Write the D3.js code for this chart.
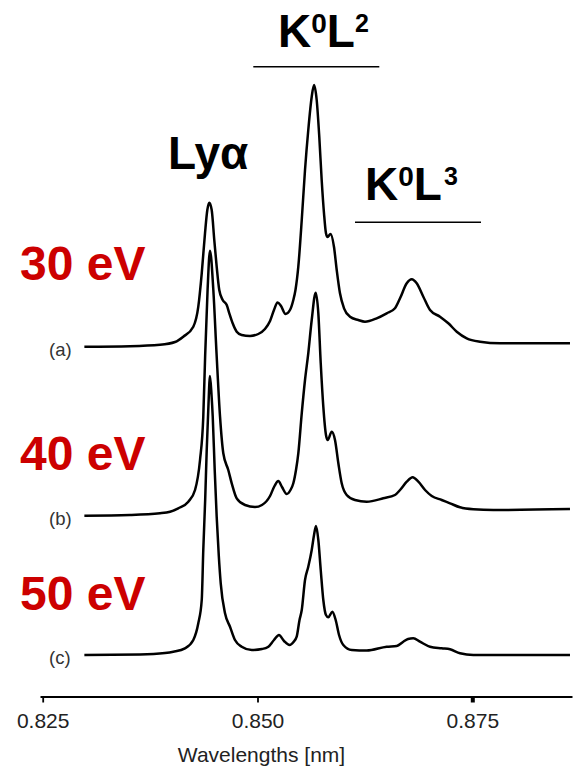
<!DOCTYPE html>
<html>
<head>
<meta charset="utf-8">
<script src="https://cdn.jsdelivr.net/npm/d3@7"></script>
<style>
  html, body { margin: 0; padding: 0; background: #fff; }
  svg { display: block; }
</style>
</head>
<body>
<svg id="chart" width="578" height="770"></svg>
<script>
// Wavelength ticks (nm)
const tickValues = [0.825, 0.850, 0.875];
const tickLabels = ["0.825", "0.850", "0.875"];

// Spectrum (a) — 30 eV: [wavelength nm, intensity a.u.]
const spectrumA = [
  [0.82985,0],[0.83516,0.005],[0.83865,0.019],[0.84040,0.047],[0.84136,0.10],
  [0.84253,0.20],[0.84311,0.40],[0.84351,0.734],[0.84389,1.134],[0.84416,1.367],
  [0.84439,1.44],[0.84467,1.367],[0.84497,1.067],[0.84525,0.80],[0.84555,0.567],
  [0.84595,0.467],[0.84642,0.417],[0.84672,0.334],[0.84711,0.234],[0.84758,0.15],
  [0.84816,0.117],[0.84913,0.107],[0.85009,0.127],[0.85087,0.177],[0.85146,0.257],
  [0.85192,0.367],[0.85233,0.442],[0.85274,0.407],[0.85326,0.327],[0.85378,0.367],
  [0.85417,0.467],[0.85442,0.567],[0.85475,0.80],[0.85515,1.267],[0.85553,1.767],
  [0.85591,2.167],[0.85631,2.50],[0.85658,2.617],[0.85689,2.467],[0.85719,2.10],
  [0.85747,1.667],[0.85774,1.334],[0.85797,1.134],[0.85815,1.097],[0.85850,1.127],
  [0.85890,1.00],[0.85922,0.767],[0.85960,0.534],[0.86007,0.384],[0.86077,0.30],
  [0.86173,0.267],[0.86251,0.25],[0.86387,0.284],[0.86504,0.334],[0.86600,0.384],
  [0.86659,0.484],[0.86737,0.634],[0.86795,0.674],[0.86853,0.634],[0.86930,0.50],
  [0.87008,0.367],[0.87124,0.30],[0.87221,0.234],[0.87319,0.15],[0.87435,0.084],
  [0.87590,0.05],[0.87823,0.034],[0.88637,0.034]
];

// Spectrum (b) — 40 eV
const spectrumB = [
  [0.82985,0],[0.83516,0.007],[0.83865,0.024],[0.83982,0.04],[0.84078,0.074],
  [0.84195,0.14],[0.84273,0.257],[0.84331,0.557],[0.84369,0.99],[0.84391,1.607],
  [0.84419,2.257],[0.84447,2.65],[0.84486,2.257],[0.84523,1.627],[0.84564,0.99],
  [0.84602,0.624],[0.84660,0.457],[0.84700,0.324],[0.84758,0.174],[0.84855,0.107],
  [0.84971,0.087],[0.85052,0.107],[0.85146,0.197],[0.85198,0.297],[0.85242,0.347],
  [0.85285,0.287],[0.85340,0.217],[0.85384,0.257],[0.85417,0.324],[0.85448,0.457],
  [0.85475,0.624],[0.85515,1.024],[0.85553,1.357],[0.85591,1.624],[0.85631,1.957],
  [0.85677,2.23],[0.85708,2.024],[0.85736,1.524],[0.85766,1.09],[0.85797,0.807],
  [0.85817,0.757],[0.85864,0.84],[0.85902,0.757],[0.85941,0.524],[0.85980,0.324],
  [0.86038,0.207],[0.86135,0.157],[0.86271,0.14],[0.86464,0.174],[0.86600,0.207],
  [0.86659,0.257],[0.86737,0.34],[0.86806,0.384],[0.86872,0.34],[0.86950,0.257],
  [0.87028,0.197],[0.87144,0.157],[0.87241,0.124],[0.87357,0.084],[0.87512,0.064],
  [0.87745,0.057],[0.88637,0.067]
];

// Spectrum (c) — 50 eV
const spectrumC = [
  [0.82985,0],[0.83632,0.005],[0.83923,0.02],[0.84020,0.033],[0.84156,0.067],
  [0.84253,0.15],[0.84311,0.317],[0.84351,0.55],[0.84369,1.05],[0.84391,1.55],
  [0.84409,2.05],[0.84427,2.45],[0.84447,2.79],[0.84465,2.60],[0.84479,2.383],
  [0.84502,1.85],[0.84525,1.383],[0.84549,1.00],[0.84572,0.717],[0.84622,0.417],
  [0.84680,0.283],[0.84738,0.15],[0.84816,0.083],[0.84933,0.05],[0.85052,0.06],
  [0.85122,0.08],[0.85192,0.15],[0.85250,0.20],[0.85309,0.14],[0.85373,0.10],
  [0.85419,0.13],[0.85456,0.183],[0.85489,0.35],[0.85515,0.45],[0.85553,0.75],
  [0.85591,0.883],[0.85631,1.05],[0.85658,1.20],[0.85681,1.29],[0.85708,1.15],
  [0.85736,0.85],[0.85766,0.55],[0.85797,0.40],[0.85824,0.377],[0.85871,0.433],
  [0.85910,0.35],[0.85949,0.20],[0.85999,0.10],[0.86097,0.05],[0.86271,0.045],
  [0.86504,0.083],[0.86620,0.09],[0.86697,0.133],[0.86752,0.16],[0.86813,0.167],
  [0.86891,0.133],[0.87008,0.083],[0.87144,0.067],[0.87241,0.057],[0.87357,0.017],
  [0.87512,0],[0.88637,0]
];

// Vertical offsets used to stack the spectra, and their labels
const spectra = [spectrumA, spectrumB, spectrumC];
const offsets = [3.083, 1.393, 0];
const panelLabels = ["(a)", "(b)", "(c)"];
const energyLabels = ["30 eV", "40 eV", "50 eV"];

const svg = d3.select("#chart");
const font = "'Liberation Sans', Arial, Helvetica, sans-serif";

const x = d3.scaleLinear().domain([0.824686, 0.886604]).range([40, 572]);
const y = d3.scaleLinear().domain([0, 6]).range([655, 55]);

// Spectra
const line = d3.line()
  .x(d => x(d[0]))
  .y(d => y(d[1]))
  .curve(d3.curveMonotoneX);

svg.append("g").selectAll("path")
  .data(spectra)
  .join("path")
  .attr("d", (s, i) => line(s.map(p => [p[0], p[1] + offsets[i]])))
  .attr("fill", "none")
  .attr("stroke", "#000")
  .attr("stroke-width", 2.5)
  .attr("stroke-linejoin", "round");

// Panel letters at the start of each trace
svg.append("g").selectAll("text")
  .data(panelLabels)
  .join("text")
  .attr("x", 49)
  .attr("y", (d, i) => y(offsets[i]) + 9)
  .attr("font-family", font)
  .attr("font-size", 18.5)
  .attr("fill", "#333")
  .text(d => d);

// Excitation energies
const energyBaselines = [280, 469.5, 609.5];
svg.append("g").selectAll("text")
  .data(energyLabels)
  .join("text")
  .attr("x", 20)
  .attr("y", (d, i) => energyBaselines[i])
  .attr("font-family", font)
  .attr("font-size", 48)
  .attr("font-weight", "bold")
  .attr("fill", "#cc0000")
  .text(d => d);

// Peak labels
svg.append("text")
  .attr("x", 168).attr("y", 168.5)
  .attr("font-family", font).attr("font-size", 46).attr("font-weight", "bold")
  .attr("fill", "#000")
  .text("Lyα");

function shellLabel(x0, base, sup1, sup2, gap) {
  const t = svg.append("text")
    .attr("x", x0).attr("y", base)
    .attr("font-family", font).attr("font-weight", "bold").attr("fill", "#000");
  t.append("tspan").attr("font-size", 46).text("K");
  t.append("tspan").attr("font-size", 28).attr("dy", -13.5).text(sup1);
  t.append("tspan").attr("font-size", 46).attr("dy", 13.5).text("L");
  t.append("tspan").attr("font-size", 25).attr("dy", -15).attr("dx", gap).text(sup2);
}
shellLabel(278, 46.5, "0", "2", 0);
shellLabel(365, 199.5, "0", "3", 2);

// Group brackets under the shell labels: [start nm, end nm, y px]
const brackets = [[0.849511, 0.864176, 66.7], [0.861348, 0.876013, 222.3]];
svg.append("g").selectAll("line")
  .data(brackets)
  .join("line")
  .attr("x1", d => x(d[0])).attr("x2", d => x(d[1]))
  .attr("y1", d => d[2]).attr("y2", d => d[2])
  .attr("stroke", "#000").attr("stroke-width", 1.6);

// Wavelength axis
const axis = d3.axisBottom(x)
  .tickValues(tickValues)
  .tickFormat((d, i) => tickLabels[i])
  .tickSize(6)
  .tickSizeOuter(0)
  .tickPadding(11);

const gx = svg.append("g")
  .attr("transform", "translate(0,696.5)")
  .call(axis);
gx.select(".domain").attr("stroke", "#000").attr("stroke-width", 2.2);
gx.selectAll(".tick line")
  .attr("stroke", "#000")
  .attr("stroke-width", (d, i) => i === 2 ? 4 : 1.8);
gx.selectAll(".tick text")
  .attr("font-family", font).attr("font-size", 21).attr("fill", "#222");

svg.append("text")
  .attr("x", 261.5).attr("y", 762)
  .attr("text-anchor", "middle")
  .attr("font-family", font).attr("font-size", 21).attr("fill", "#222")
  .text("Wavelengths [nm]");
</script>
</body>
</html>
